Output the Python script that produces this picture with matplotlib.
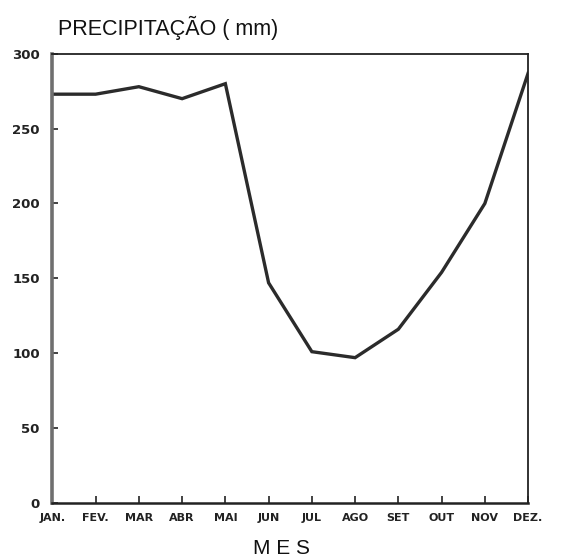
import numpy as np
import matplotlib.pyplot as plt

# monthly rainfall
months = ["JAN.", "FEV.", "MAR", "ABR", "MAI", "JUN", "JUL", "AGO", "SET", "OUT", "NOV", "DEZ."]
precip = [273, 273, 278, 270, 280, 147, 101, 97, 116, 154, 200, 287]
y_ticks = [0, 50, 100, 150, 200, 250, 300]

x = np.arange(len(months))

fig = plt.figure(figsize=(5.63, 5.60), dpi=100)
ax = fig.add_axes([0.093, 0.102, 0.845, 0.802])

ax.plot(x, precip, color="#2b2b2b", lw=2.4, solid_joinstyle="miter")

ax.set_xlim(0, len(months) - 1)
ax.set_ylim(0, 300)

ax.set_xticks(x)
ax.set_xticklabels(months, fontsize=8, fontweight="bold", family="DejaVu Sans")
ax.set_yticks(y_ticks)
ax.set_yticklabels([str(v) for v in y_ticks], fontsize=9.5, fontweight="bold",
                   family="DejaVu Sans")
ax.tick_params(axis="x", direction="in", length=5, width=1.2, pad=7, colors="#222")
ax.tick_params(axis="y", direction="in", length=4, width=1.2, pad=9, colors="#222")

for side in ["top", "right"]:
    ax.spines[side].set_linewidth(1.3)
    ax.spines[side].set_color("#222")
ax.spines["bottom"].set_linewidth(1.8)
ax.spines["bottom"].set_color("#222")
ax.spines["left"].set_linewidth(2.6)
ax.spines["left"].set_color("#6f6f6f")

fig.text(0.103, 0.95, "PRECIPITAÇÃO ( mm)", fontsize=15.5, family="Liberation Sans",
         ha="left", va="center", color="#111")
fig.text(0.5, 0.021, "M E S", fontsize=15, family="Liberation Sans",
         ha="center", va="center", color="#111")

fig.savefig("out.png", dpi=100)
